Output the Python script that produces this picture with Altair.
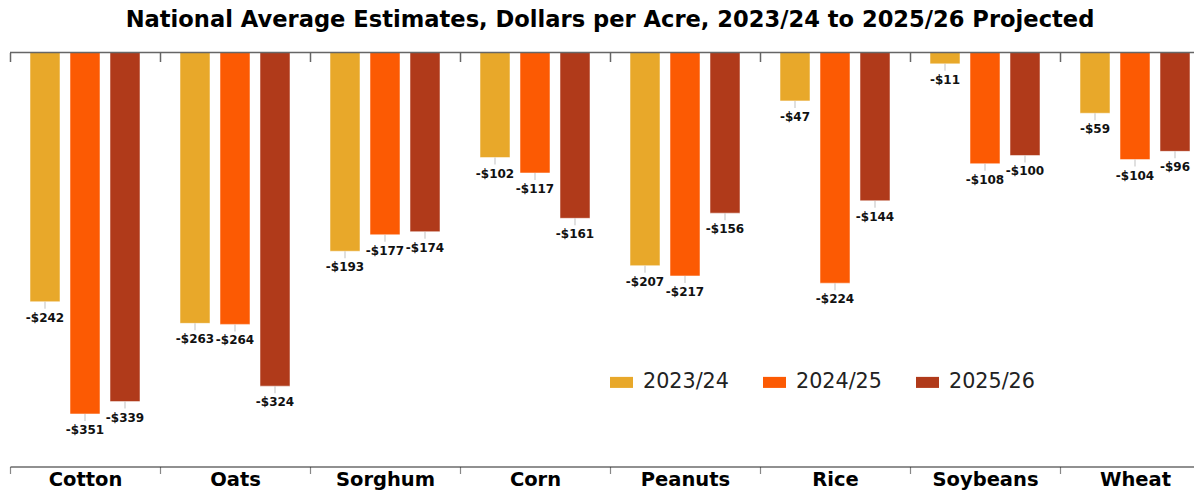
import altair as alt
import pandas as pd

crops = ["Cotton", "Oats", "Sorghum", "Corn", "Peanuts", "Rice", "Soybeans", "Wheat"]
years = ["2023/24", "2024/25", "2025/26"]
v2324 = [-242, -263, -193, -102, -207, -47, -11, -59]
v2425 = [-351, -264, -177, -117, -217, -224, -108, -104]
v2526 = [-339, -324, -174, -161, -156, -144, -100, -96]
colors = ["#E8A82A", "#FC5A03", "#B03A1A"]

rows = []
for i, c in enumerate(crops):
    for yr, vals in zip(years, [v2324, v2425, v2526]):
        rows.append({"crop": c, "year": yr, "value": vals[i]})
df = pd.DataFrame(rows)

# the view is 1184 px wide; bands keep a 150 px step, so the last one runs past the edge
xscale = alt.Scale(domain=crops, paddingInner=0, paddingOuter=0, range=[0, 1200], round=False)
xoff = alt.XOffset("year:N", sort=years,
                   scale=alt.Scale(domain=years, paddingInner=0.25, paddingOuter=0.5))
ydomain = [-402, 0]
yenc = alt.Y("value:Q", scale=alt.Scale(domain=ydomain, nice=False, zero=False), axis=None)

bottom_axis = alt.Axis(orient="bottom", title=None, labelAngle=0, labelFont="DejaVu Sans",
                       labelFontSize=19.5, labelFontWeight="bold", labelColor="#000",
                       labelPadding=-3, tickBand="extent", tickSize=7, tickColor="#888",
                       tickWidth=1.2, domainColor="#222", domainWidth=1.2, grid=False)
top_axis = alt.Axis(orient="top", title=None, labels=False, domain=False, tickBand="extent",
                    tickSize=9, tickColor="#666", tickWidth=1.5, offset=-9, grid=False)

legend = alt.Legend(orient="none", legendX=600, legendY=318, direction="horizontal", title=None,
                    symbolType="M-1,-0.48H1V0.48H-1Z", symbolSize=529, symbolStrokeWidth=0,
                    symbolOpacity=1, labelFontSize=20.7, labelFont="DejaVu Sans", labelColor="#222",
                    labelOffset=10, columnPadding=34)

base = alt.Chart(df)

bars = base.mark_bar(stroke="white", strokeWidth=1, strokeOpacity=0.5).encode(
    x=alt.X("crop:N", sort=crops, scale=xscale, axis=bottom_axis),
    xOffset=xoff,
    y=yenc,
    color=alt.Color("year:N", sort=years, scale=alt.Scale(domain=years, range=colors), legend=legend),
)

stubs = base.mark_tick(orient="vertical", size=7, thickness=1, color="#aaaaaa", yOffset=3.5).encode(
    x=alt.X("crop:N", sort=crops, scale=xscale, axis=None),
    xOffset=xoff,
    y=yenc,
)

labels = base.transform_calculate(
    lab="'-$' + abs(datum.value)"
).mark_text(baseline="alphabetic", dy=20, font="DejaVu Sans", fontSize=12,
            fontWeight="bold", color="#111").encode(
    x=alt.X("crop:N", sort=crops, scale=xscale, axis=top_axis),
    xOffset=xoff,
    y=yenc,
    text="lab:N",
)

zero = alt.Chart(pd.DataFrame({"z": [0]})).mark_rule(color="#666", strokeWidth=1.5).encode(
    y=alt.Y("z:Q", scale=alt.Scale(domain=ydomain, nice=False, zero=False), axis=None)
)

chart = alt.layer(bars, stubs, labels, zero).resolve_axis(x="independent").properties(
    width=1184,
    height=414,
    autosize=alt.AutoSizeParams(type="none"),
    padding={"left": 2, "top": 44.5, "right": 0, "bottom": 26.5},
    title=alt.TitleParams("National Average Estimates, Dollars per Acre, 2023/24 to 2025/26 Projected",
                          font="DejaVu Sans", fontSize=22.6, fontWeight="bold", anchor="middle",
                          color="#000", offset=20, dx=8),
).configure(background="white").configure_view(stroke=None)

chart.save("out.html", embed_options={"renderer": "svg", "actions": False})
